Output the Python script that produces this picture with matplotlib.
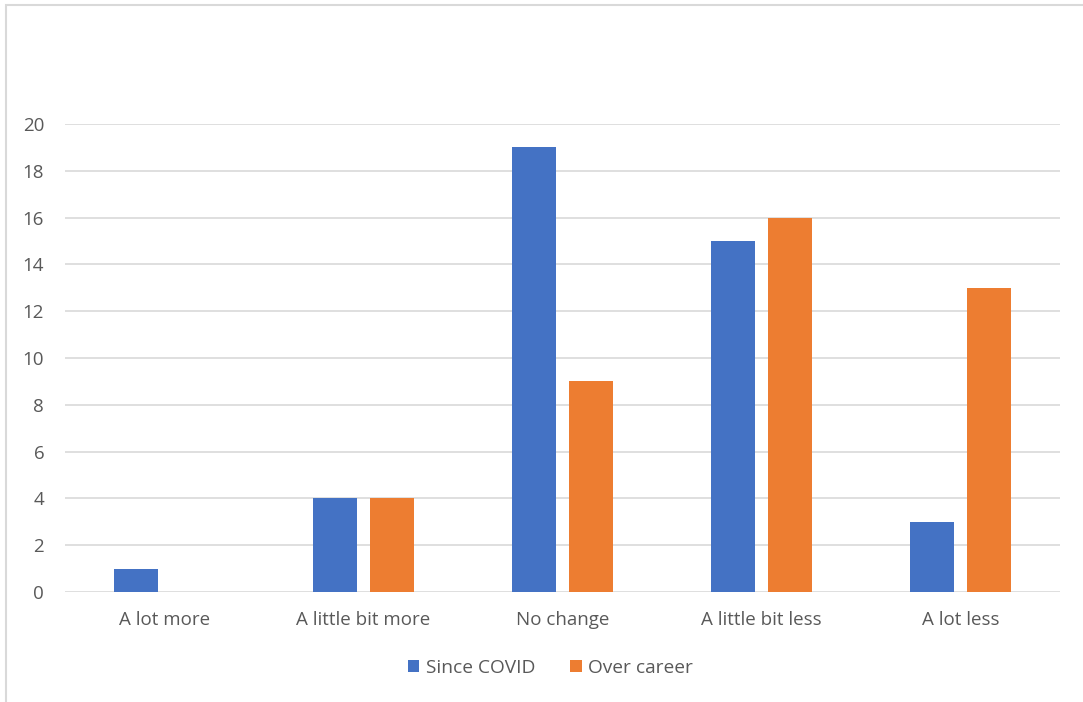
import matplotlib
matplotlib.use("Agg")
import matplotlib.pyplot as plt
from matplotlib.patches import Rectangle
import numpy as np

categories = ["A lot more", "A little bit more", "No change", "A little bit less", "A lot less"]
since_covid = [1, 4, 19, 15, 3]
over_career = [0, 4, 9, 16, 13]
series_names = ["Since COVID", "Over career"]
yticks = [0, 2, 4, 6, 8, 10, 12, 14, 16, 18, 20]

BLUE = "#4472C4"
ORANGE = "#ED7D31"
GRID = "#D9D9D9"
TEXT = "#595959"

plt.rcParams["font.family"] = ["Open Sans", "DejaVu Sans"]

W, H = 1083, 702
fig = plt.figure(figsize=(W / 100, H / 100), dpi=100)

# chart frame
fig.patches.append(Rectangle((6 / W, -0.1), 1.2, 1.1 - 5 / H, transform=fig.transFigure,
                             fill=False, edgecolor=GRID, linewidth=1.5, zorder=0))

ax = fig.add_axes([65 / W, 1 - 592 / H, (1060 - 65) / W, (592 - 124) / H])
x = np.arange(len(categories))
w = 0.221
off = 0.143
ax.bar(x - off, since_covid, width=w, color=BLUE, label=series_names[0], zorder=3)
ax.bar(x + off, over_career, width=w, color=ORANGE, label=series_names[1], zorder=3)

ax.set_xlim(-0.5, len(categories) - 0.5)
ax.set_ylim(0, 20)
ax.set_yticks(yticks)
ax.set_xticks(x)
ax.set_xticklabels(categories)
ax.yaxis.grid(True, color=GRID, linewidth=1.2, zorder=0)
ax.set_axisbelow(True)
for s in ax.spines.values():
    s.set_visible(False)
ax.tick_params(axis="both", length=0, labelsize=13.5, labelcolor=TEXT)
ax.tick_params(axis="y", pad=15)
ax.tick_params(axis="x", pad=14)

fig.legend(loc="center", bbox_to_anchor=(0.5 + 9 / W, 1 - 668 / H), ncol=2, frameon=False,
           fontsize=13.8, labelcolor=TEXT, handlelength=0.6, handleheight=0.6,
           handletextpad=0.35, columnspacing=1.8)

fig.savefig("out.png", dpi=100)
